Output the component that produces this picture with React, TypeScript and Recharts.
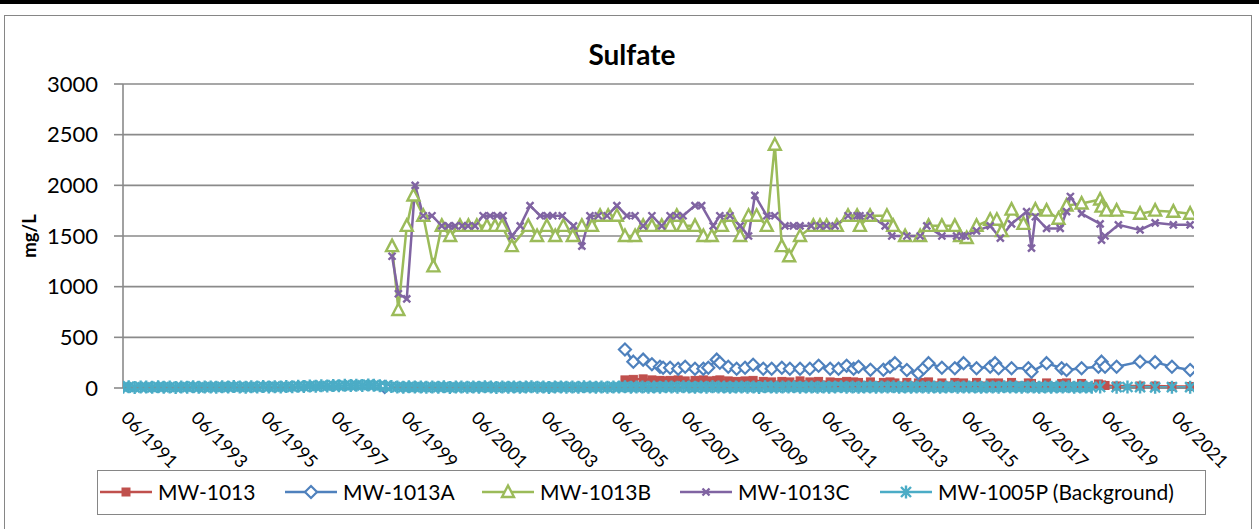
import React from "react";
import { CartesianGrid, Line, LineChart, XAxis, YAxis } from "recharts";

type Sample = [number, number | null];

const FONT = "Lato, 'Noto Sans', sans-serif";

const X_TICK_LABELS = [
  "06/1991", "06/1993", "06/1995", "06/1997", "06/1999", "06/2001", "06/2003", "06/2005",
  "06/2007", "06/2009", "06/2011", "06/2013", "06/2015", "06/2017", "06/2019", "06/2021",
];
const X_AXIS_END = "01/2022";
const Y_TICKS = [0, 500, 1000, 1500, 2000, 2500, 3000];

// sample dates are decimal years
const mw1013: Sample[] = [
  [2005.75, 80], [2005.99, 85], [2006.27, 90], [2006.52, 80], [2006.75, 75], [2006.84, 70],
  [2007.04, 75], [2007.27, 80], [2007.47, 70], [2007.75, 75], [2007.99, 80], [2008.13, 70],
  [2008.37, 75], [2008.46, 80], [2008.7, 70], [2008.94, 65], [2009.18, 70], [2009.41, 75],
  [2009.7, 65], [2009.94, 60], [2010.23, 65], [2010.46, 60], [2010.75, 70], [2011.03, 60],
  [2011.28, 65], [2011.61, 60], [2011.85, 55], [2012.08, 65], [2012.28, 60], [2012.42, 55],
  [2012.76, 60], [2013.13, 55], [2013.32, 60], [2013.46, 50], [2013.8, 55], [2014.13, 50],
  [2014.28, 55], [2014.42, 60], [2014.8, 50], [2015.17, 55], [2015.42, 50], [2015.79, 55],
  [2016.18, 50], [2016.32, 45], [2016.42, 50], [2016.79, 55], [2017.27, 50], [2017.36, 45],
  [2017.79, 50], [2018.22, 45], [2018.36, 50], [2018.79, 45], [2019.27, 40], [2019.36, 30],
  [2019.46, 25], [2019.79, 20], [2020.46, 20], [2020.89, 20], [2021.37, 15], [2021.89, 15],
];

const mw1013A: Sample[] = [
  [1998.89, 10], [2002.0, null],
  [2005.75, 380], [2005.99, 260], [2006.27, 280], [2006.52, 235], [2006.75, 210], [2006.84, 200],
  [2007.04, 200], [2007.27, 190], [2007.47, 210], [2007.75, 190], [2007.99, 190], [2008.13, 200],
  [2008.37, 280], [2008.46, 250], [2008.7, 210], [2008.94, 190], [2009.18, 200], [2009.41, 230],
  [2009.7, 190], [2009.94, 190], [2010.23, 200], [2010.46, 190], [2010.75, 190], [2011.03, 190],
  [2011.28, 220], [2011.61, 190], [2011.85, 190], [2012.08, 220], [2012.28, 190], [2012.42, 210],
  [2012.76, 180], [2013.13, 180], [2013.32, 210], [2013.46, 245], [2013.8, 178], [2014.13, 145],
  [2014.28, 195], [2014.42, 245], [2014.8, 200], [2015.17, 195], [2015.42, 245], [2015.79, 195],
  [2016.18, 210], [2016.32, 245], [2016.42, 195], [2016.79, 195], [2017.27, 195], [2017.36, 160],
  [2017.79, 245], [2018.22, 195], [2018.36, 178], [2018.79, 195], [2019.27, 210], [2019.36, 260],
  [2019.46, 210], [2019.79, 210], [2020.46, 260], [2020.89, 255], [2021.37, 210], [2021.89, 178],
];

const mw1013B: Sample[] = [
  [1999.1, 1400], [1999.28, 770], [1999.52, 1600], [1999.71, 1900], [1999.99, 1700], [2000.28, 1200],
  [2000.52, 1600], [2000.76, 1500], [2001.04, 1600], [2001.28, 1600], [2001.52, 1600], [2001.81, 1600],
  [2002.04, 1600], [2002.24, 1600], [2002.52, 1400], [2002.99, 1600], [2003.24, 1500], [2003.52, 1600],
  [2003.76, 1500], [2003.99, 1600], [2004.26, 1500], [2004.52, 1600], [2004.81, 1600], [2005.04, 1700],
  [2005.27, 1700], [2005.52, 1700], [2005.75, 1500], [2006.04, 1500], [2006.27, 1600], [2006.52, 1600],
  [2006.8, 1600], [2007.04, 1600], [2007.23, 1700], [2007.41, 1600], [2007.75, 1600], [2007.99, 1500],
  [2008.23, 1500], [2008.52, 1600], [2008.75, 1700], [2009.04, 1500], [2009.28, 1700], [2009.51, 1700],
  [2009.8, 1600], [2010.03, 2400], [2010.23, 1400], [2010.44, 1300], [2010.75, 1500], [2011.13, 1600],
  [2011.32, 1600], [2011.51, 1600], [2011.8, 1600], [2012.12, 1700], [2012.38, 1700], [2012.46, 1600],
  [2012.75, 1700], [2013.23, 1700], [2013.41, 1600], [2013.75, 1500], [2014.18, 1500], [2014.42, 1600],
  [2014.8, 1600], [2015.17, 1600], [2015.32, 1500], [2015.51, 1480], [2015.79, 1600], [2016.18, 1660],
  [2016.37, 1660], [2016.51, 1550], [2016.79, 1760], [2017.13, 1620], [2017.47, 1760], [2017.79, 1750],
  [2018.13, 1670], [2018.36, 1800], [2018.79, 1820], [2019.32, 1860], [2019.36, 1790], [2019.5, 1750],
  [2019.79, 1750], [2020.46, 1720], [2020.89, 1750], [2021.41, 1740], [2021.89, 1720],
];

const mw1013C: Sample[] = [
  [1999.1, 1300], [1999.28, 930], [1999.52, 880], [1999.76, 2000], [1999.99, 1700], [2000.24, 1700],
  [2000.52, 1600], [2000.71, 1600], [2000.9, 1600], [2001.1, 1600], [2001.27, 1600], [2001.47, 1600],
  [2001.7, 1700], [2001.9, 1700], [2002.1, 1700], [2002.27, 1700], [2002.52, 1500], [2002.76, 1600],
  [2003.04, 1800], [2003.33, 1700], [2003.53, 1700], [2003.69, 1700], [2003.96, 1700], [2004.28, 1600],
  [2004.52, 1400], [2004.75, 1700], [2004.99, 1700], [2005.24, 1700], [2005.52, 1800], [2005.8, 1700],
  [2006.04, 1700], [2006.27, 1600], [2006.52, 1700], [2006.8, 1600], [2007.04, 1700], [2007.23, 1700],
  [2007.41, 1700], [2007.75, 1800], [2007.94, 1800], [2008.27, 1600], [2008.46, 1700], [2008.75, 1700],
  [2009.04, 1600], [2009.28, 1500], [2009.46, 1900], [2009.8, 1700], [2010.03, 1700], [2010.32, 1600],
  [2010.56, 1600], [2010.75, 1600], [2011.07, 1600], [2011.32, 1600], [2011.51, 1600], [2011.75, 1600],
  [2012.12, 1700], [2012.38, 1700], [2012.46, 1700], [2012.75, 1700], [2013.18, 1600], [2013.37, 1500],
  [2013.8, 1500], [2014.18, 1500], [2014.37, 1600], [2014.8, 1500], [2015.22, 1500], [2015.37, 1500],
  [2015.47, 1500], [2015.79, 1550], [2016.18, 1600], [2016.47, 1480], [2016.79, 1620], [2017.22, 1740],
  [2017.36, 1380], [2017.47, 1690], [2017.79, 1575], [2018.18, 1575], [2018.36, 1740], [2018.47, 1890],
  [2018.79, 1720], [2019.32, 1620], [2019.36, 1460], [2019.46, 1500], [2019.84, 1610], [2020.46, 1560],
  [2020.89, 1630], [2021.41, 1610], [2021.89, 1610],
];

const mw1005P: Sample[] = [
  [1991.42, 8], [1991.58, 12], [1991.75, 6], [1991.92, 10],
  [1992.08, 9], [1992.25, 7], [1992.42, 12], [1992.58, 8], [1992.75, 10], [1992.92, 6],
  [1993.08, 10], [1993.25, 8], [1993.42, 13], [1993.58, 7], [1993.75, 9], [1993.92, 11],
  [1994.08, 8], [1994.25, 12], [1994.42, 9], [1994.58, 14], [1994.75, 10], [1994.92, 8],
  [1995.08, 12], [1995.25, 9], [1995.42, 15], [1995.58, 11], [1995.75, 13], [1995.92, 10],
  [1996.08, 14], [1996.25, 12], [1996.42, 18], [1996.58, 15], [1996.75, 20], [1996.92, 17],
  [1997.08, 22], [1997.25, 19], [1997.42, 25], [1997.58, 21], [1997.75, 27], [1997.92, 24],
  [1998.08, 28], [1998.25, 25], [1998.42, 30], [1998.58, 26], [1998.75, 22], [1998.92, 18],
  [1999.08, 14], [1999.25, 10], [1999.42, 8], [1999.58, 12], [1999.75, 9], [1999.92, 11],
  [2000.08, 7], [2000.25, 10], [2000.42, 8], [2000.58, 12], [2000.75, 6], [2000.92, 9],
  [2001.08, 10], [2001.25, 7], [2001.42, 11], [2001.58, 8], [2001.75, 12], [2001.92, 9],
  [2002.08, 6], [2002.25, 10], [2002.42, 8], [2002.58, 11], [2002.75, 7], [2002.92, 9],
  [2003.08, 12], [2003.25, 8], [2003.42, 10], [2003.58, 6], [2003.75, 9], [2003.92, 11],
  [2004.08, 8], [2004.25, 10], [2004.42, 7], [2004.58, 12], [2004.75, 9], [2004.92, 8],
  [2005.08, 10], [2005.25, 7], [2005.42, 11], [2005.58, 9], [2005.75, 12], [2005.92, 8],
  [2006.08, 9], [2006.25, 11], [2006.42, 7], [2006.58, 10], [2006.75, 8], [2006.92, 12],
  [2007.08, 10], [2007.25, 8], [2007.42, 13], [2007.58, 9], [2007.75, 7], [2007.92, 11],
  [2008.08, 8], [2008.25, 12], [2008.42, 9], [2008.58, 10], [2008.75, 7], [2008.92, 9],
  [2009.08, 11], [2009.25, 8], [2009.42, 10], [2009.58, 6], [2009.75, 12], [2009.92, 9],
  [2010.08, 7], [2010.25, 10], [2010.42, 9], [2010.58, 12], [2010.75, 8], [2010.92, 10],
  [2011.08, 9], [2011.25, 7], [2011.42, 11], [2011.58, 8], [2011.75, 10], [2011.92, 12],
  [2012.08, 8], [2012.25, 10], [2012.42, 7], [2012.58, 9], [2012.75, 11], [2012.92, 8],
  [2013.08, 10], [2013.25, 9], [2013.42, 12], [2013.58, 7], [2013.75, 10], [2013.92, 8],
  [2014.08, 9], [2014.25, 11], [2014.42, 8], [2014.58, 10], [2014.75, 7], [2014.92, 9],
  [2015.08, 12], [2015.25, 8], [2015.42, 10], [2015.58, 9], [2015.75, 11], [2015.92, 7],
  [2016.08, 9], [2016.25, 10], [2016.42, 8], [2016.58, 12], [2016.75, 9], [2016.92, 10],
  [2017.08, 8], [2017.25, 11], [2017.42, 9], [2017.58, 7], [2017.75, 10], [2017.92, 8],
  [2018.08, 10], [2018.25, 9], [2018.42, 12], [2018.58, 8], [2018.75, 10], [2018.92, 9],
  [2019.08, 8], [2019.32, 10], [2019.79, 8], [2020.1, 10], [2020.46, 9], [2020.89, 7],
  [2021.37, 8], [2021.89, 8],
];

const SERIES = [
  { name: "MW-1013", data: mw1013, color: "#C0504D", marker: "square" },
  { name: "MW-1013A", data: mw1013A, color: "#4F81BD", marker: "diamond" },
  { name: "MW-1013B", data: mw1013B, color: "#9BBB59", marker: "triangle" },
  { name: "MW-1013C", data: mw1013C, color: "#8064A2", marker: "cross" },
  { name: "MW-1005P (Background)", data: mw1005P, color: "#4BACC6", marker: "star" },
];

// where each legend entry starts, measured from the legend box's left edge
const LEGEND_OFFSETS = [3, 188, 385, 583, 783];

const toDecimal = (label: string) => {
  const [m, y] = label.split("/").map(Number);
  return y + (m - 1) / 12;
};
const X_TICKS = X_TICK_LABELS.map(toDecimal);
const X_DOMAIN = [X_TICKS[0], toDecimal(X_AXIS_END)];

function Marker({ kind, cx, cy, color }: { kind: string; cx: number; cy: number; color: string }) {
  if (kind === "square") {
    return <rect x={cx - 4} y={cy - 4} width={8} height={8} fill={color} stroke={color} strokeWidth={1} />;
  }
  if (kind === "diamond") {
    return (
      <path
        d={`M${cx},${cy - 6}L${cx + 6},${cy}L${cx},${cy + 6}L${cx - 6},${cy}Z`}
        fill="#fff"
        stroke={color}
        strokeWidth={2.2}
      />
    );
  }
  if (kind === "triangle") {
    return (
      <path
        d={`M${cx},${cy - 6.5}L${cx + 6},${cy + 5}L${cx - 6},${cy + 5}Z`}
        fill="#fff"
        stroke={color}
        strokeWidth={2.4}
      />
    );
  }
  if (kind === "cross") {
    return (
      <path
        d={`M${cx - 3.5},${cy - 3.5}L${cx + 3.5},${cy + 3.5}M${cx - 3.5},${cy + 3.5}L${cx + 3.5},${cy - 3.5}`}
        stroke={color}
        strokeWidth={2.4}
      />
    );
  }
  return (
    <path
      d={`M${cx - 5},${cy - 5}L${cx + 5},${cy + 5}M${cx - 5},${cy + 5}L${cx + 5},${cy - 5}M${cx},${cy - 6.5}L${cx},${cy + 6.5}`}
      stroke={color}
      strokeWidth={2.4}
    />
  );
}

const makeDot = (kind: string, color: string) => (props: any) => {
  const { cx, cy, index, value } = props;
  if (cx == null || cy == null || value == null || Number.isNaN(cy)) return <g key={`d-${index}`} />;
  return (
    <g key={`d-${index}`}>
      <Marker kind={kind} cx={cx} cy={cy} color={color} />
    </g>
  );
};

function DateTick({ x, y, payload }: any) {
  const label = X_TICK_LABELS[X_TICKS.indexOf(payload.value)] ?? "";
  const ax = x - 3;
  const ay = y + 23;
  return (
    <text
      x={ax}
      y={ay}
      transform={`rotate(45, ${ax}, ${ay})`}
      textAnchor="start"
      fontFamily={FONT}
      fontSize={18}
      fill="#000"
    >
      {label}
    </text>
  );
}

function LegendBox() {
  return (
    <svg
      width={1109}
      height={45}
      style={{ position: "absolute", left: 97, top: 470, overflow: "visible" }}
    >
      <rect x={0.5} y={0.5} width={1108} height={44} fill="#fff" stroke="#868686" strokeWidth={1} />
      {SERIES.map((s, i) => {
        const lx = LEGEND_OFFSETS[i];
        return (
          <g key={s.name}>
            <line x1={lx} y1={22} x2={lx + 52} y2={22} stroke={s.color} strokeWidth={2.5} />
            <Marker kind={s.marker} cx={lx + 26} cy={22} color={s.color} />
            <text x={lx + 58} y={29.5} fontFamily={FONT} fontSize={21} fill="#000">
              {s.name}
            </text>
          </g>
        );
      })}
    </svg>
  );
}

export default function App() {
  return (
    <div
      style={{
        position: "absolute",
        left: 0,
        top: 0,
        width: 1259,
        height: 529,
        overflow: "hidden",
        background: "#fff",
      }}
    >
      <div style={{ position: "absolute", left: 0, top: 0, width: 1259, height: 4, background: "#000" }} />
      <div
        style={{
          position: "absolute",
          left: 4,
          top: 15,
          width: 1248,
          height: 600,
          border: "1px solid #868686",
          boxSizing: "border-box",
        }}
      />
      <div style={{ position: "absolute", left: 0, top: 0 }}>
        <LineChart width={1259} height={529} margin={{ top: 84, right: 65, bottom: 81, left: 0 }}>
          <CartesianGrid vertical={false} stroke="#8a8a8a" strokeWidth={1.6} />
          <XAxis
            type="number"
            dataKey="x"
            domain={X_DOMAIN}
            ticks={X_TICKS}
            interval={0}
            allowDataOverflow
            height={60}
            tickLine={false}
            axisLine={{ stroke: "#8a8a8a", strokeWidth: 1.6 }}
            tick={<DateTick />}
          />
          <YAxis
            type="number"
            domain={[0, 3000]}
            ticks={Y_TICKS}
            interval={0}
            width={123}
            tickSize={9}
            tickMargin={16}
            tickLine={{ stroke: "#8a8a8a", strokeWidth: 1.6 }}
            axisLine={{ stroke: "#8a8a8a", strokeWidth: 1.6 }}
            tick={{ fontFamily: FONT, fontSize: 22, fill: "#000" }}
          />
          {SERIES.map((s) => (
            <Line
              key={s.name}
              name={s.name}
              data={s.data.map(([x, y]) => ({ x, y }))}
              dataKey="y"
              type="linear"
              stroke={s.color}
              strokeWidth={2.5}
              dot={makeDot(s.marker, s.color)}
              activeDot={false}
              connectNulls={false}
              isAnimationActive={false}
            />
          ))}
        </LineChart>
      </div>
      <svg width={1259} height={529} style={{ position: "absolute", left: 0, top: 0, pointerEvents: "none" }}>
        <text x={632} y={65} textAnchor="middle" fontFamily={FONT} fontWeight="bold" fontSize={28} fill="#000">
          Sulfate
        </text>
        <text
          x={36}
          y={236}
          transform="rotate(-90, 36, 236)"
          textAnchor="middle"
          fontFamily={FONT}
          fontWeight="bold"
          fontSize={18.5}
          fill="#000"
        >
          mg/L
        </text>
      </svg>
      <LegendBox />
    </div>
  );
}
